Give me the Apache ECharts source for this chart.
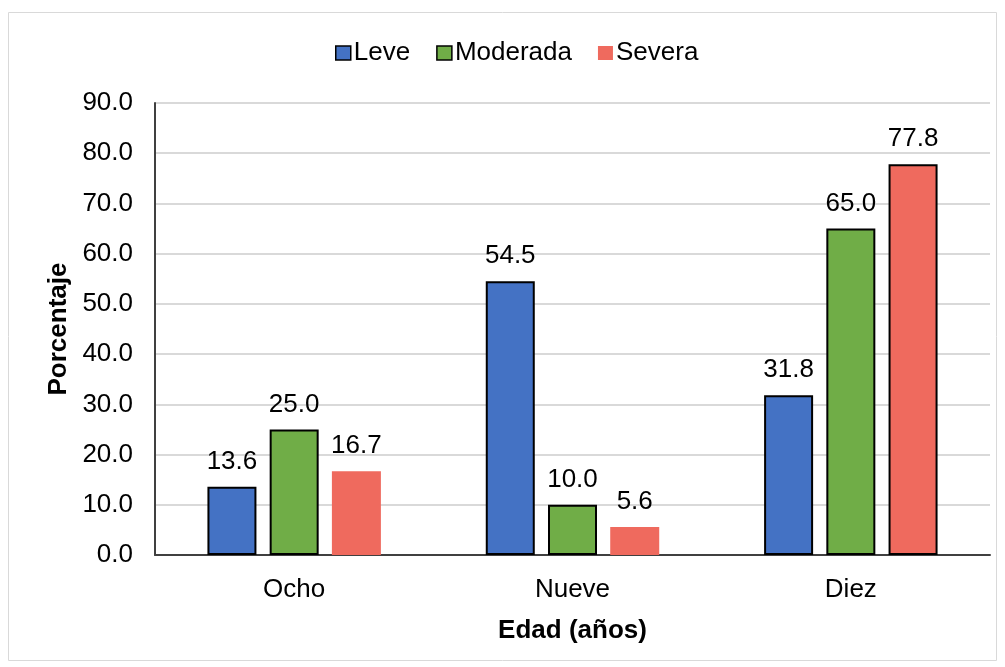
<!DOCTYPE html>
<html><head><meta charset="utf-8">
<script src="https://cdn.jsdelivr.net/npm/echarts@6/dist/echarts.min.js"></script>
<style>html,body{margin:0;padding:0;background:#fff}#c{width:1005px;height:667px}</style>
</head><body><div id="c"></div>
<script>
const categories = ['Ocho', 'Nueve', 'Diez'];
const leve = [13.6, 54.5, 31.8];
const moderada = [25.0, 10.0, 65.0];
const severa = [16.7, 5.6, 77.8];
const seriesNames = ['Leve', 'Moderada', 'Severa'];
const colors = ['#4472C4', '#70AD47', '#EF6A5E'];

const font = 'Liberation Sans, Arial, sans-serif';
const FS = 26;
const chart = echarts.init(document.getElementById('c'));
const label = {show: true, position: 'top', distance: 12, color: '#000', fontFamily: font, fontSize: FS,
  formatter: p => p.value.toFixed(1)};
function mk(name, data, color, borders) {
  return {
    name, type: 'bar', barWidth: 49, barGap: '27%',
    data: data.map((v, i) => ({value: v, itemStyle: borders[i] ? {borderColor: '#000', borderWidth: 2} : {borderWidth: 0}})),
    itemStyle: {color},
    label
  };
}
chart.setOption({
  animation: false,
  graphic: [{type: 'rect', shape: {x: 8.5, y: 12.5, width: 988, height: 648}, style: {fill: 'none', stroke: '#d9d9d9', lineWidth: 1}}],
  legend: {
    top: 35, left: 330, itemWidth: 15, itemHeight: 14, itemGap: 26, icon: 'rect',
    textStyle: {fontFamily: font, fontSize: FS, color: '#000', padding: [0, 0, 0, -2]},
    data: [
      {name: 'Leve', itemStyle: {borderColor: '#000', borderWidth: 1.5}},
      {name: 'Moderada', itemStyle: {borderColor: '#000', borderWidth: 1.5}},
      {name: 'Severa', itemStyle: {borderWidth: 0}}
    ]
  },
  grid: {left: 155, right: 15, top: 103, bottom: 112, containLabel: false},
  xAxis: {
    type: 'category', data: categories,
    axisLine: {lineStyle: {color: '#404040', width: 2}},
    axisTick: {show: false},
    axisLabel: {fontFamily: font, fontSize: FS, color: '#000', margin: 22},
    name: 'Edad (años)', nameLocation: 'middle', nameGap: 63,
    nameTextStyle: {fontFamily: font, fontSize: FS, fontWeight: 'bold', color: '#000'}
  },
  yAxis: {
    type: 'value', min: 0, max: 90, interval: 10,
    axisLine: {show: true, lineStyle: {color: '#404040', width: 2}},
    axisTick: {show: false},
    splitLine: {lineStyle: {color: '#d9d9d9', width: 2}},
    axisLabel: {fontFamily: font, fontSize: FS, color: '#000', margin: 22, formatter: v => v.toFixed(1)},
    name: 'Porcentaje', nameLocation: 'middle', nameGap: 82,
    nameTextStyle: {fontFamily: font, fontSize: FS, fontWeight: 'bold', color: '#000'}
  },
  series: [
    mk(seriesNames[0], leve, colors[0], [true, true, true]),
    mk(seriesNames[1], moderada, colors[1], [true, true, true]),
    mk(seriesNames[2], severa, colors[2], [false, false, true])
  ]
});
</script></body></html>
